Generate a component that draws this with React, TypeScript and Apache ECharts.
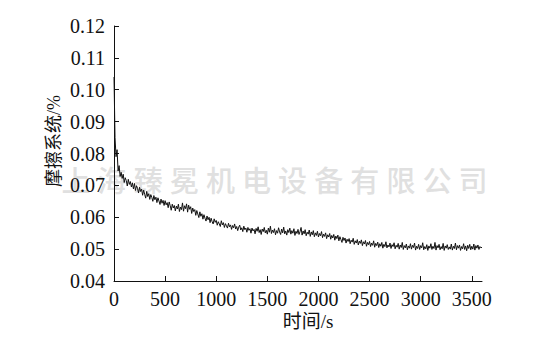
import React, { useEffect, useRef } from "react";
import * as echarts from "echarts";

const timeStep = 10; // s, spacing of the samples below
const friction: number[] = [
  0.1040, 0.0850, 0.0790, 0.0812, 0.0745, 0.0762, 0.0728, 0.0741, 0.0722, 0.0735,
  0.0709, 0.0724, 0.0715, 0.0698, 0.0719, 0.0703, 0.0712, 0.0695, 0.0708, 0.0689,
  0.0706, 0.0684, 0.0699, 0.0691, 0.0676, 0.0694, 0.0681, 0.0688, 0.0669, 0.0685,
  0.0672, 0.0660, 0.0681, 0.0665, 0.0674, 0.0656, 0.0671, 0.0662, 0.0650, 0.0668,
  0.0655, 0.0663, 0.0646, 0.0661, 0.0651, 0.0640, 0.0657, 0.0644, 0.0653, 0.0637,
  0.0652, 0.0639, 0.0646, 0.0630, 0.0648, 0.0636, 0.0622, 0.0641, 0.0629, 0.0637,
  0.0620, 0.0635, 0.0626, 0.0641, 0.0618, 0.0632, 0.0624, 0.0645, 0.0619, 0.0636,
  0.0627, 0.0642, 0.0616, 0.0638, 0.0625, 0.0633, 0.0612, 0.0629, 0.0618, 0.0624,
  0.0606, 0.0621, 0.0610, 0.0599, 0.0617, 0.0603, 0.0611, 0.0594, 0.0608, 0.0597,
  0.0588, 0.0604, 0.0592, 0.0600, 0.0583, 0.0597, 0.0586, 0.0579, 0.0595, 0.0584,
  0.0590, 0.0575, 0.0586, 0.0579, 0.0571, 0.0589, 0.0576, 0.0583, 0.0568, 0.0580,
  0.0573, 0.0566, 0.0581, 0.0570, 0.0576, 0.0562, 0.0574, 0.0567, 0.0579, 0.0563,
  0.0571, 0.0558, 0.0569, 0.0575, 0.0560, 0.0567, 0.0555, 0.0572, 0.0561, 0.0566,
  0.0553, 0.0568, 0.0559, 0.0564, 0.0550, 0.0566, 0.0557, 0.0562, 0.0548, 0.0565,
  0.0556, 0.0570, 0.0552, 0.0561, 0.0546, 0.0563, 0.0555, 0.0568, 0.0551, 0.0559,
  0.0547, 0.0566, 0.0553, 0.0572, 0.0549, 0.0560, 0.0552, 0.0564, 0.0545, 0.0558,
  0.0550, 0.0567, 0.0554, 0.0546, 0.0563, 0.0551, 0.0569, 0.0548, 0.0557, 0.0544,
  0.0561, 0.0552, 0.0566, 0.0547, 0.0558, 0.0550, 0.0564, 0.0543, 0.0556, 0.0549,
  0.0562, 0.0546, 0.0555, 0.0568, 0.0544, 0.0557, 0.0548, 0.0561, 0.0542, 0.0553,
  0.0547, 0.0560, 0.0540, 0.0554, 0.0545, 0.0558, 0.0539, 0.0551, 0.0543, 0.0556,
  0.0538, 0.0549, 0.0542, 0.0555, 0.0536, 0.0547, 0.0540, 0.0551, 0.0533, 0.0545,
  0.0538, 0.0549, 0.0531, 0.0543, 0.0535, 0.0546, 0.0528, 0.0541, 0.0533, 0.0544,
  0.0526, 0.0539, 0.0530, 0.0521, 0.0537, 0.0527, 0.0535, 0.0519, 0.0531, 0.0524,
  0.0533, 0.0517, 0.0528, 0.0522, 0.0534, 0.0515, 0.0526, 0.0519, 0.0530, 0.0513,
  0.0525, 0.0518, 0.0529, 0.0511, 0.0523, 0.0516, 0.0527, 0.0509, 0.0521, 0.0514,
  0.0524, 0.0508, 0.0519, 0.0512, 0.0526, 0.0506, 0.0518, 0.0511, 0.0522, 0.0505,
  0.0517, 0.0509, 0.0521, 0.0503, 0.0515, 0.0508, 0.0523, 0.0504, 0.0513, 0.0507,
  0.0519, 0.0502, 0.0514, 0.0508, 0.0520, 0.0501, 0.0512, 0.0506, 0.0518, 0.0500,
  0.0513, 0.0505, 0.0521, 0.0499, 0.0511, 0.0504, 0.0516, 0.0498, 0.0510, 0.0503,
  0.0517, 0.0500, 0.0512, 0.0505, 0.0519, 0.0497, 0.0509, 0.0502, 0.0515, 0.0499,
  0.0511, 0.0504, 0.0520, 0.0498, 0.0508, 0.0501, 0.0514, 0.0496, 0.0510, 0.0503,
  0.0517, 0.0499, 0.0509, 0.0502, 0.0521, 0.0497, 0.0511, 0.0504, 0.0515, 0.0498,
  0.0508, 0.0501, 0.0518, 0.0496, 0.0510, 0.0503, 0.0514, 0.0499, 0.0507, 0.0500,
  0.0516, 0.0497, 0.0509, 0.0502, 0.0519, 0.0498, 0.0511, 0.0503, 0.0513, 0.0496,
  0.0508, 0.0501, 0.0517, 0.0499, 0.0510, 0.0495, 0.0512, 0.0502, 0.0515, 0.0498,
  0.0509, 0.0500, 0.0516, 0.0497, 0.0511, 0.0503, 0.0513, 0.0499, 0.0508, 0.0504,
  0.0506,
];
const xTicks = [0, 500, 1000, 1500, 2000, 2500, 3000, 3500];
const yTicks = [0.04, 0.05, 0.06, 0.07, 0.08, 0.09, 0.10, 0.11, 0.12];
const xName = "时间/s";
const yName = "摩擦系统/%";
const watermark = "上海臻冕机电设备有限公司";

const serif = '"Liberation Serif", "Noto Sans CJK SC", serif';

export default function App() {
  const ref = useRef<HTMLDivElement>(null);
  useEffect(() => {
    if (!ref.current) return;
    const chart = echarts.init(ref.current, null, { renderer: "svg" });
    const data = friction.map((v, i) => [i * timeStep, v]);
    const wmChars = Array.from(watermark).map((ch, i) => ({
      type: "text",
      z: -10,
      silent: true,
      x: 76 + i * 36.1,
      y: 179,
      style: {
        text: ch,
        fill: "#e0e0e0",
        font: '500 29px "Noto Sans CJK SC", sans-serif',
        align: "center",
        verticalAlign: "middle",
        shadowColor: "rgba(0,0,0,0.45)",
        shadowBlur: 3,
        shadowOffsetX: 1.5,
        shadowOffsetY: 2,
      },
    }));
    chart.setOption({
      animation: false,
      backgroundColor: "#ffffff",
      grid: { left: 114, right: 78, top: 26, bottom: 71 },
      graphic: [
        ...wmChars,
        {
          type: "text",
          x: 308,
          y: 321,
          style: {
            text: xName,
            fill: "#111",
            font: '19px "Liberation Serif", "Noto Sans CJK SC", serif',
            align: "center",
            verticalAlign: "middle",
          },
        },
        {
          type: "text",
          x: 54,
          y: 141,
          rotation: Math.PI / 2,
          style: {
            text: yName,
            fill: "#111",
            font: '18px "Liberation Serif", "Noto Sans CJK SC", serif',
            align: "center",
            verticalAlign: "middle",
          },
        },
      ],
      xAxis: {
        type: "value",
        min: 0,
        max: 3600,
        interval: 500,
        splitLine: { show: false },
        axisLine: { show: true, onZero: false, lineStyle: { color: "#111", width: 1 } },
        axisTick: { show: true, inside: true, length: 5, customValues: xTicks, lineStyle: { color: "#111" } },
        axisLabel: {
          customValues: xTicks,
          color: "#111",
          fontFamily: serif,
          fontSize: 20,
          margin: 8,
          formatter: (v: number) => String(v),
        },
      },
      yAxis: {
        type: "value",
        min: 0.04,
        max: 0.12,
        interval: 0.01,
        splitLine: { show: false },
        axisLine: { show: true, onZero: false, lineStyle: { color: "#111", width: 1 } },
        axisTick: { show: true, inside: true, length: 5, customValues: yTicks, lineStyle: { color: "#111" } },
        axisLabel: {
          customValues: yTicks,
          color: "#111",
          fontFamily: serif,
          fontSize: 20,
          margin: 9,
          formatter: (v: number) => v.toFixed(2),
        },
      },
      series: [
        {
          type: "line",
          data,
          showSymbol: false,
          symbol: "none",
          lineStyle: { color: "#111", width: 1 },
        },
      ],
    });
    return () => chart.dispose();
  }, []);
  return <div ref={ref} style={{ width: 560, height: 352, marginLeft: -8, marginTop: -8 }} />;
}
